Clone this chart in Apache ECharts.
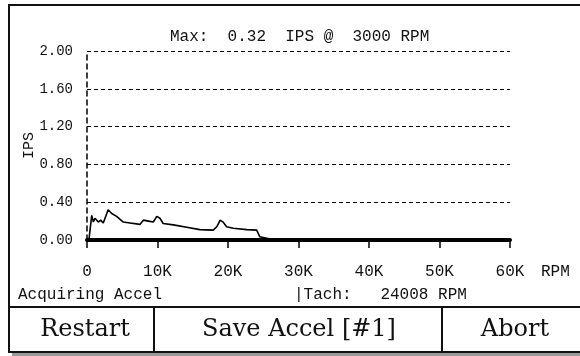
<!DOCTYPE html>
<html>
<head>
<meta charset="utf-8">
<script src="https://cdn.jsdelivr.net/npm/echarts@6/dist/echarts.min.js"></script>
<style>
  html, body { margin: 0; padding: 0; background: #fff; }
  #chart { width: 580px; height: 356px; }
</style>
</head>
<body>
<div id="chart"></div>
<script>
// Acceleration trace: velocity (IPS) against shaft speed (RPM)
const rpm = [0, 300, 670, 900, 1130, 1600, 1940, 2310, 3000, 3500, 4200, 5150, 6100, 7500, 8000, 8700, 9400, 9900, 10350, 10800, 12250, 14150, 16000, 17900, 18400, 18900, 19300, 19800, 20750, 22650, 24070, 24500, 26000];
const ips = [0.00, 0.02, 0.26, 0.19, 0.23, 0.19, 0.21, 0.18, 0.32, 0.28, 0.25, 0.19, 0.18, 0.165, 0.21, 0.20, 0.19, 0.25, 0.23, 0.175, 0.16, 0.135, 0.11, 0.105, 0.14, 0.21, 0.19, 0.14, 0.125, 0.11, 0.105, 0.035, 0.01];

const xTicks = [0, 10000, 20000, 30000, 40000, 50000, 60000];
const yTicks = [0, 0.4, 0.8, 1.2, 1.6, 2.0];

const maxIps = 0.32;
const maxRpm = 3000;
const tachRpm = 24008;
const statusText = 'Acquiring Accel';
const buttons = ['Restart', 'Save Accel [#1]', 'Abort'];

const mono = '"Liberation Mono", "DejaVu Sans Mono", monospace';
const serif = '"DejaVu Serif", "Liberation Serif", serif';

const chart = echarts.init(document.getElementById('chart'), null, { renderer: 'canvas' });

const points = rpm.map((r, i) => [r, ips[i]]);

chart.setOption({
  animation: false,
  backgroundColor: '#fff',
  title: {
    text: 'Max:  ' + maxIps.toFixed(2) + '  IPS @  ' + maxRpm + ' RPM',
    left: 165,
    top: 24,
    textStyle: { fontFamily: mono, fontSize: 16, fontWeight: 'normal', color: '#111' }
  },
  grid: { left: 87, right: 70, top: 51, bottom: 116 },
  xAxis: {
    type: 'value',
    min: xTicks[0],
    max: xTicks[xTicks.length - 1],
    interval: xTicks[1] - xTicks[0],
    axisLine: { show: true, lineStyle: { color: '#000', width: 4 } },
    axisTick: { show: true, length: 8, lineStyle: { color: '#000', width: 1.5 } },
    axisLabel: {
      margin: 24,
      fontFamily: mono, fontSize: 16, color: '#111',
      formatter: v => v === 0 ? '0' : (v / 1000) + 'K'
    },
    splitLine: { show: false }
  },
  yAxis: {
    type: 'value',
    min: yTicks[0],
    max: yTicks[yTicks.length - 1],
    interval: yTicks[1] - yTicks[0],
    name: 'IPS',
    nameLocation: 'middle',
    nameGap: 50,
    nameRotate: 90,
    nameMoveOverlap: false,
    nameTextStyle: { fontFamily: mono, fontSize: 15, color: '#111' },
    axisLine: { show: true, lineStyle: { color: '#000', width: 1.5, type: [5, 4] } },
    axisTick: { show: true, inside: true, length: 2, lineStyle: { color: '#000', width: 1 } },
    axisLabel: {
      margin: 14,
      fontFamily: mono, fontSize: 14, color: '#111',
      formatter: v => v.toFixed(2)
    },
    splitLine: { show: true, lineStyle: { color: '#000', width: 1, type: [4, 3] } }
  },
  series: [{
    type: 'line',
    data: points,
    showSymbol: false,
    symbol: 'none',
    lineStyle: { color: '#000', width: 1.6 },
    z: 3
  }],
  graphic: [
    // outer frame and drop shadow
    { type: 'rect', shape: { x: 12, y: 353, width: 570, height: 3 }, style: { fill: '#999' }, silent: true },
    { type: 'polyline', shape: { points: [[590, 5], [9, 5], [9, 352], [590, 352]] },
      style: { stroke: '#111', lineWidth: 2, fill: null }, silent: true },
    // button row
    { type: 'line', shape: { x1: 9, y1: 307, x2: 590, y2: 307 }, style: { stroke: '#111', lineWidth: 2 }, silent: true },
    { type: 'line', shape: { x1: 154, y1: 307, x2: 154, y2: 352 }, style: { stroke: '#111', lineWidth: 2 }, silent: true },
    { type: 'line', shape: { x1: 442, y1: 307, x2: 442, y2: 352 }, style: { stroke: '#111', lineWidth: 2 }, silent: true },
    { type: 'text', x: 85, y: 330, style: { text: buttons[0], font: '24px ' + serif, fill: '#111', align: 'center', verticalAlign: 'middle' } },
    { type: 'text', x: 299, y: 330, style: { text: buttons[1], font: '24px ' + serif, fill: '#111', align: 'center', verticalAlign: 'middle' } },
    { type: 'text', x: 515, y: 330, style: { text: buttons[2], font: '24px ' + serif, fill: '#111', align: 'center', verticalAlign: 'middle' } },
    // status line
    { type: 'text', x: 18, y: 295, style: { text: statusText, font: '16px ' + mono, fill: '#111', verticalAlign: 'middle' } },
    { type: 'text', x: 294, y: 295, style: { text: '|Tach:   ' + tachRpm + ' RPM', font: '16px ' + mono, fill: '#111', verticalAlign: 'middle' } },
    // x-axis unit
    { type: 'text', x: 541, y: 272, style: { text: 'RPM', font: '16px ' + mono, fill: '#111', verticalAlign: 'middle' } }
  ]
});
</script>
</body>
</html>
